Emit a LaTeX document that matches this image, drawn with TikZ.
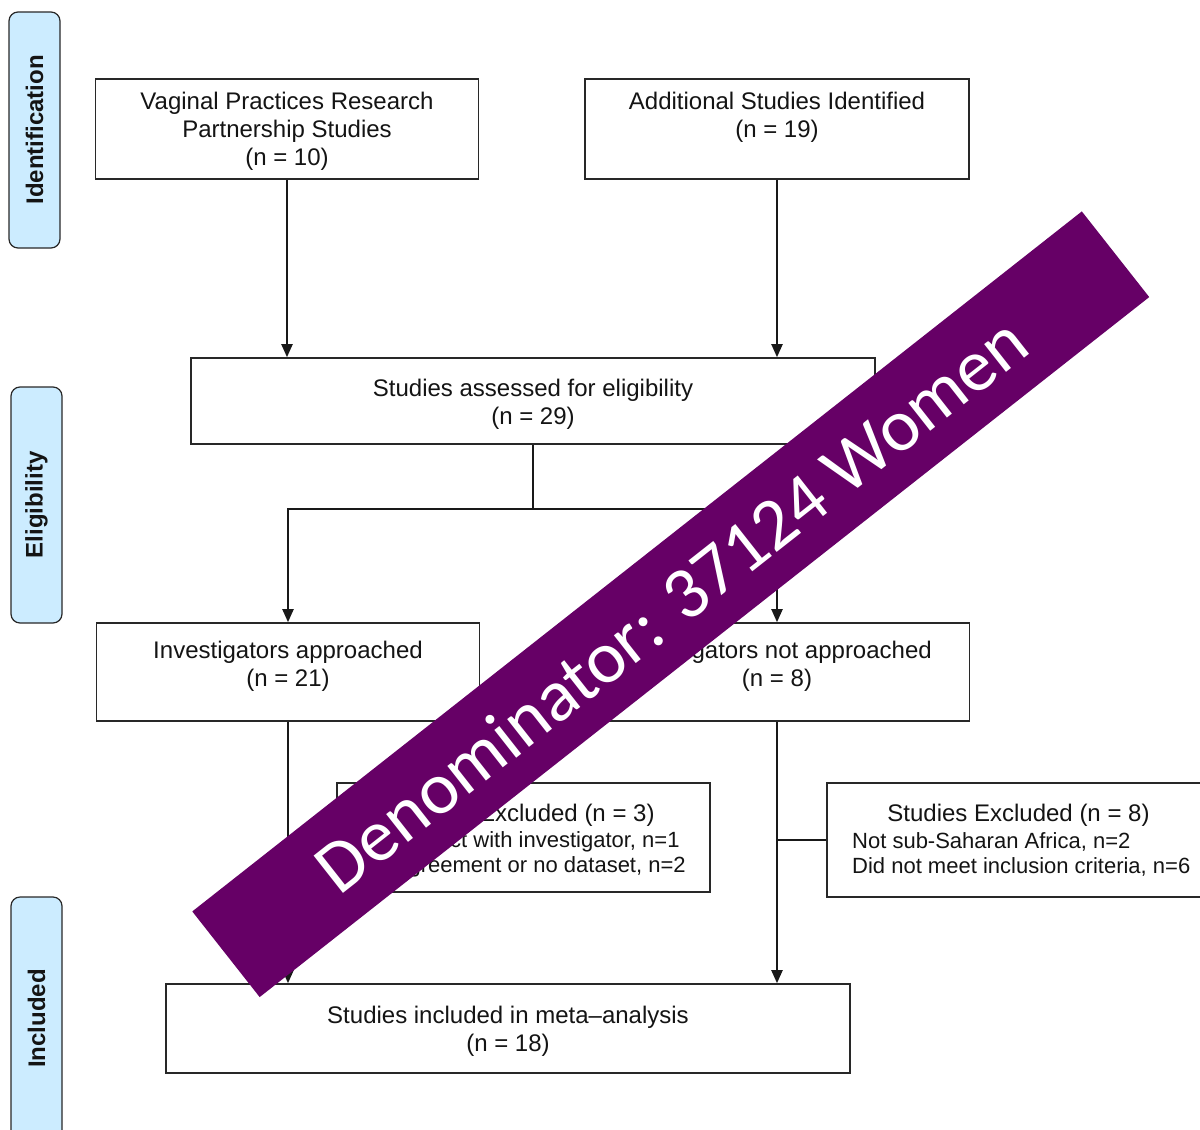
\documentclass[tikz,border=0pt]{standalone}
\usepackage{fontspec}
\setmainfont{Liberation Sans}
\newfontfamily\bannerfont{Carlito}
\usetikzlibrary{arrows.meta}
\definecolor{linegray}{RGB}{40,40,40}
\definecolor{sideblue}{RGB}{204,236,255}
\definecolor{bannerpurple}{RGB}{102,0,102}
\definecolor{textdark}{RGB}{20,20,20}
\begin{document}
\begin{tikzpicture}[x=1pt,y=-1pt,
  box/.style={draw=linegray,line width=1.6pt,fill=white,inner sep=0pt},
  txt/.style={text=textdark,align=center,font=\fontsize{24}{28}\selectfont,inner sep=0pt},
  small/.style={text=textdark,align=left,font=\fontsize{22}{25}\selectfont,inner sep=0pt,anchor=west},
  side/.style={draw=linegray,line width=1.2pt,fill=sideblue,rounded corners=9pt,rotate=90,
    font=\bfseries\fontsize{24}{28}\selectfont,text=textdark,inner sep=0pt},
  conn/.style={draw=black!90,line width=2pt},
  arr/.style={conn,-{Triangle[length=13pt,width=11pt]}},
  banner/.style={fill=bannerpurple,rotate=38.2,inner sep=0pt,text=white,
    font=\bannerfont\fontsize{74}{74}\selectfont},
]
\clip (0,0) rectangle (1200,1130);
\fill[white] (0,0) rectangle (1200,1130);

% side phase labels
\node[side, minimum width=236pt, minimum height=51pt] (sideI) at (34.5,130) {Identification};
\node[side, minimum width=236pt, minimum height=51pt] (sideE) at (36.5,505) {Eligibility};
\node[side, minimum width=243pt, minimum height=51pt] (sideN) at (36.5,1018.5) {Included};

% boxes
\node[box, minimum width=383pt, minimum height=100pt] (vprp) at (287,129) {};
\node[box, minimum width=384pt, minimum height=100pt] (add) at (777,129) {};
\node[box, minimum width=684pt, minimum height=86pt] (assess) at (533,401) {};
\node[box, minimum width=383pt, minimum height=98pt] (appr) at (288,672) {};
\node[box, minimum width=385pt, minimum height=98pt] (notappr) at (777,672) {};
\node[box, minimum width=373pt, minimum height=109pt] (exclL) at (523.5,837.5) {};
\node[box, minimum width=383pt, minimum height=114pt] (exclR) at (1018.5,840) {};
\node[box, minimum width=684pt, minimum height=89pt] (incl) at (508,1028.5) {};

% texts
\node[txt] (vprpT) at (287,131) {Vaginal Practices Research\\Partnership Studies\\(n = 10)};
\node[txt] (addT) at (777,117) {Additional Studies Identified\\(n = 19)};
\node[txt] (assessT) at (533,404) {Studies assessed for eligibility\\(n = 29)};
\node[txt] (apprT) at (288,666) {Investigators approached\\(n = 21)};
\node[txt] (notapprT) at (777,666) {Investigators not approached\\(n = 8)};
\node[txt] (inclT) at (508,1031) {Studies included in meta–analysis\\(n = 18)};
\node[txt] (exclLT) at (523.5,815) {Studies Excluded (n = 3)};
\node[small] (exclLS) at (362,854) {No contact with investigator, n=1\\No agreement or no dataset, n=2};
\node[txt] (exclRT) at (1018.5,815) {Studies Excluded (n = 8)};
\node[small] (exclRS) at (852,854) {Not sub-Saharan Africa, n=2\\Did not meet inclusion criteria, n=6};

% connectors
\coordinate (split) at (533,509);
\draw[arr] (vprp.south) -- (vprp.south |- assess.north);
\draw[arr] (add.south) -- (add.south |- assess.north);
\draw[conn] (assess.south) -- (split);
\draw[arr] (split) -| (appr.north);
\draw[arr] (split) -| (notappr.north);
\draw[arr] (appr.south) -- (appr.south |- incl.north);
\draw[arr] (notappr.south) -- (notappr.south |- incl.north);
\draw[conn] (appr.south |- exclL.west) -- (exclL.west);
\draw[conn] (notappr.south |- exclR.west) -- (exclR.west);

% banner
\node[banner, minimum width=1132pt, minimum height=109pt] (bannerN) at (670.75,604.25) {Denominator: 37124 Women};
\end{tikzpicture}
\end{document}
